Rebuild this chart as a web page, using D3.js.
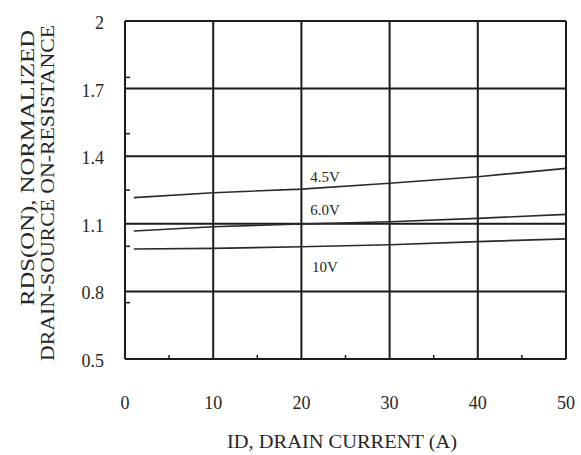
<!DOCTYPE html>
<html><head><meta charset="utf-8">
<script src="https://cdn.jsdelivr.net/npm/d3@7"></script>
<style>body{margin:0;background:#fff}svg{display:block}text{font-family:"Liberation Serif","Times New Roman",serif;fill:#262626}</style>
</head><body><svg id="c" width="581" height="455"></svg>
<script>
const xTicks = [0, 10, 20, 30, 40, 50];
const xMinor = [5, 15, 25, 35, 45];
const yTicks = [0.5, 0.8, 1.1, 1.4, 1.7, 2];
const yTickLabels = ["0.5", "0.8", "1.1", "1.4", "1.7", "2"];
const yMinor = [0.75, 1.0, 1.25, 1.5, 1.75];
const current = [1, 10, 20, 30, 40, 50];
const v45 = [1.216, 1.238, 1.254, 1.28, 1.309, 1.346];
const v60 = [1.068, 1.087, 1.099, 1.109, 1.124, 1.142];
const v10 = [0.988, 0.991, 0.998, 1.007, 1.021, 1.033];
const seriesNames = ["4.5V", "6.0V", "10V"];
const labelPos = [[21, 1.308], [21, 1.161], [21.2, 0.908]];
const xTitle = "ID, DRAIN CURRENT (A)";
const yTitle = ["RDS(ON), NORMALIZED", "DRAIN-SOURCE ON-RESISTANCE"];

const svg = d3.select("#c");
const L = 125, R = 566, T = 21, B = 359;
const x = d3.scaleLinear().domain([0, 50]).range([L, R]);
const y = d3.scaleLinear().domain([0.5, 2]).range([B, T]);
const ink = "#1c1c1c";

// grid
svg.append("g").selectAll("line").data(xTicks).join("line")
  .attr("x1", d => x(d)).attr("x2", d => x(d)).attr("y1", T).attr("y2", B)
  .attr("stroke", ink).attr("stroke-width", 2);
svg.append("g").selectAll("line").data(yTicks).join("line")
  .attr("x1", L).attr("x2", R).attr("y1", d => y(d)).attr("y2", d => y(d))
  .attr("stroke", ink).attr("stroke-width", 2);
// minor ticks
svg.append("g").selectAll("line").data(xMinor).join("line")
  .attr("x1", d => x(d)).attr("x2", d => x(d)).attr("y1", B).attr("y2", B - 4)
  .attr("stroke", ink).attr("stroke-width", 1.5);
svg.append("g").selectAll("line").data(yMinor).join("line")
  .attr("x1", L).attr("x2", L + 5).attr("y1", d => y(d)).attr("y2", d => y(d))
  .attr("stroke", ink).attr("stroke-width", 1.5);

// tick labels
svg.append("g").selectAll("text").data(xTicks).join("text")
  .attr("x", d => x(d)).attr("y", 403).attr("text-anchor", "middle")
  .attr("dominant-baseline", "central").attr("font-size", 18).text(d => d);
svg.append("g").selectAll("text").data(yTicks).join("text")
  .attr("x", 104).attr("y", d => y(d) + 2).attr("text-anchor", "end")
  .attr("dominant-baseline", "central").attr("font-size", 18).text((d, i) => yTickLabels[i]);

// lines
const line = d3.line().x(d => x(d[0])).y(d => y(d[1]));
[v45, v60, v10].forEach(vals => {
  svg.append("path").datum(current.map((c, i) => [c, vals[i]]))
    .attr("d", line).attr("fill", "none").attr("stroke", "#2a2a2a").attr("stroke-width", 1.6);
});
svg.append("g").selectAll("text").data(seriesNames).join("text")
  .attr("x", (d, i) => x(labelPos[i][0])).attr("y", (d, i) => y(labelPos[i][1]))
  .attr("font-size", 15).attr("dominant-baseline", "central").text(d => d);

// titles
svg.append("text").attr("x", 342).attr("y", 442).attr("text-anchor", "middle")
  .attr("dominant-baseline", "central").attr("font-size", 18)
  .attr("textLength", 230).attr("lengthAdjust", "spacingAndGlyphs").text(xTitle);
const yLens = [276, 336];
const yCenters = [168, 193];
yTitle.forEach((t, i) => {
  svg.append("text").attr("transform", `translate(${28 + i * 20},${yCenters[i]}) rotate(-90)`)
    .attr("text-anchor", "middle").attr("dominant-baseline", "central")
    .attr("font-size", 18).attr("textLength", yLens[i]).attr("lengthAdjust", "spacingAndGlyphs").text(t);
});
</script></body></html>
